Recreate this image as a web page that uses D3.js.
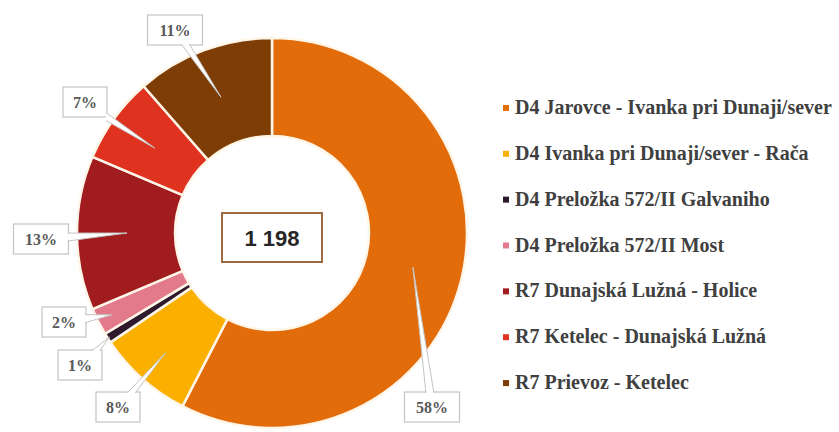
<!DOCTYPE html>
<html>
<head>
<meta charset="utf-8">
<script src="https://cdn.jsdelivr.net/npm/d3@7/dist/d3.min.js"></script>
<style>
  html, body { margin: 0; padding: 0; background: #ffffff; }
  svg { display: block; }
</style>
</head>
<body>
<svg id="chart" width="839" height="432"></svg>
<script>
// Road sections and their counts
const sections = [
  "D4 Jarovce - Ivanka pri Dunaji/sever",
  "D4 Ivanka pri Dunaji/sever - Rača",
  "D4 Preložka 572/II Galvaniho",
  "D4 Preložka 572/II Most",
  "R7 Dunajská Lužná - Holice",
  "R7 Ketelec - Dunajská Lužná",
  "R7 Prievoz - Ketelec"
];
const counts = [690, 95, 10, 27, 153, 86, 137];
const colors = ["#e36c0a", "#fbb000", "#2e1a2c", "#e27a8c", "#a01c1e", "#e0331f", "#7f3d06"];

const svg = d3.select("#chart");
const cx = 272, cy = 233;
const rOuter = 195, rInner = 97;

const total = d3.sum(counts);
const fmtTotal = d3.formatLocale({ decimal: ",", thousands: " ", grouping: [3], currency: ["", " €"] }).format(",d");

const pie = d3.pie().sort(null).value(d => d)(counts);
const arc = d3.arc().innerRadius(rInner).outerRadius(rOuter);

const g = svg.append("g").attr("transform", `translate(${cx},${cy})`);

g.selectAll("path.slice")
  .data(pie)
  .join("path")
  .attr("class", "slice")
  .attr("d", arc)
  .attr("fill", (d, i) => colors[i])
  .attr("stroke", "#fff6ea")
  .attr("stroke-width", 2.5);

// Center total box
const boxW = 100, boxH = 49;
g.append("rect")
  .attr("x", -boxW / 2).attr("y", -20)
  .attr("width", boxW).attr("height", boxH)
  .attr("fill", "#ffffff")
  .attr("stroke", "#9c6a3c")
  .attr("stroke-width", 2);
g.append("text")
  .attr("x", 0).attr("y", 12.5)
  .attr("text-anchor", "middle")
  .attr("font-family", "Liberation Sans, Arial, sans-serif")
  .attr("font-weight", "bold")
  .attr("font-size", 22)
  .attr("fill", "#262626")
  .text(fmtTotal(total));

// Callout layout: box center offset from the ring center and pointer tip radius
const callouts = [
  { dx: 160, dy: 174, tipR: 145 },
  { dx: -154, dy: 174, tipR: 160 },
  { dx: -192, dy: 132, tipR: 193 },
  { dx: -208, dy: 89, tipR: 180 },
  { dx: -231, dy: 6, tipR: 145 },
  { dx: -187, dy: -131, tipR: 145 },
  { dx: -97, dy: -203, tipR: 145 }
];

const labelFont = "Liberation Serif, 'Times New Roman', serif";
const lg = g.append("g");

pie.forEach((d, i) => {
  const pct = Math.round(d.value / total * 100) + "%";
  const c = callouts[i];
  const mid = (d.startAngle + d.endAngle) / 2;
  const tip = [c.tipR * Math.sin(mid), -c.tipR * Math.cos(mid)];
  const bw = pct.length > 2 ? 55 : 44, bh = 30;
  const x0 = c.dx - bw / 2, y0 = c.dy - bh / 2;

  lg.append("rect")
    .attr("x", x0).attr("y", y0).attr("width", bw).attr("height", bh)
    .attr("fill", "#ffffff")
    .attr("stroke", "#c4c4c4")
    .attr("stroke-width", 1.2);

  // where the line from box center to tip leaves the box
  const vx = tip[0] - c.dx, vy = tip[1] - c.dy;
  const tX = vx !== 0 ? (bw / 2) / Math.abs(vx) : Infinity;
  const tY = vy !== 0 ? (bh / 2) / Math.abs(vy) : Infinity;
  const t = Math.min(tX, tY);
  const ex = c.dx + vx * t, ey = c.dy + vy * t;
  const half = 4;
  let b1, b2;
  if (tX < tY) { // exits through a vertical side
    const sx = ex - Math.sign(vx) * 1;
    b1 = [sx, ey - half]; b2 = [sx, ey + half];
  } else {
    const sy = ey - Math.sign(vy) * 1;
    b1 = [ex - half, sy]; b2 = [ex + half, sy];
  }
  lg.append("path")
    .attr("d", `M${b1[0]},${b1[1]}L${tip[0]},${tip[1]}L${b2[0]},${b2[1]}`)
    .attr("fill", "#ffffff")
    .attr("stroke", "#c4c4c4")
    .attr("stroke-width", 1);

  lg.append("text")
    .attr("x", c.dx).attr("y", c.dy + 5.5)
    .attr("text-anchor", "middle")
    .attr("font-family", labelFont)
    .attr("font-weight", "bold")
    .attr("font-size", 16)
    .attr("fill", "#595959")
    .text(pct);
});

// Legend
const legY = d3.scaleBand().domain(sections).range([85, 406]);
const leg = svg.append("g").selectAll("g")
  .data(sections)
  .join("g")
  .attr("transform", d => `translate(503,${legY(d) + legY.bandwidth() / 2})`);
leg.append("rect")
  .attr("x", 0).attr("y", -3).attr("width", 6).attr("height", 6)
  .attr("fill", (d, i) => colors[i]);
leg.append("text")
  .attr("x", 12).attr("y", 6)
  .attr("font-family", labelFont)
  .attr("font-weight", "bold")
  .attr("font-size", 20)
  .attr("fill", "#404040")
  .text(d => d);
</script>
</body>
</html>
